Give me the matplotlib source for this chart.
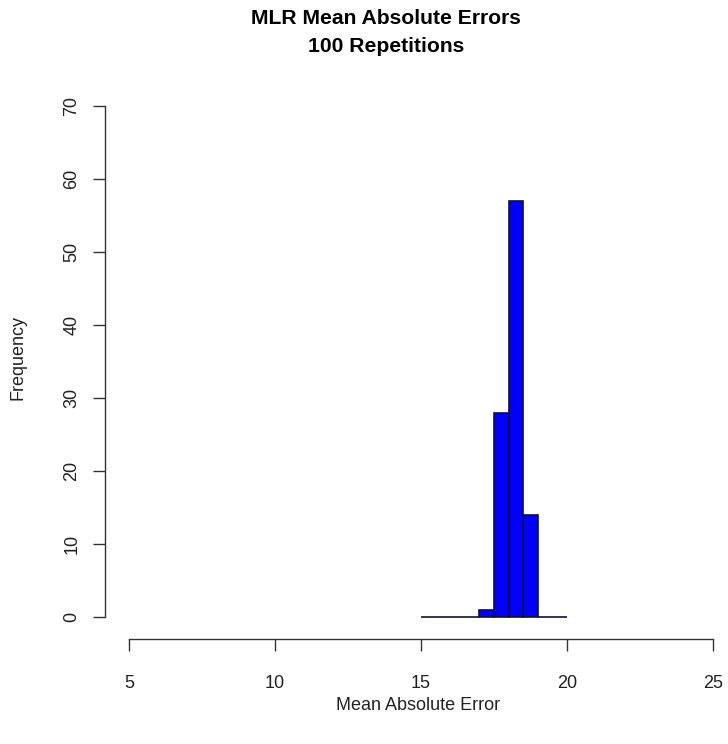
import numpy as np
import matplotlib
matplotlib.use("Agg")
import matplotlib.pyplot as plt

plt.rcParams['font.family'] = ['Liberation Sans', 'DejaVu Sans']

# Histogram of mean absolute errors over 100 repetitions
bin_edges = [15.0, 15.5, 16.0, 16.5, 17.0, 17.5, 18.0, 18.5, 19.0, 19.5, 20.0]
counts = [0, 0, 0, 0, 1, 28, 57, 14, 0, 0]
x_ticks = [5, 10, 15, 20, 25]
y_ticks = [0, 10, 20, 30, 40, 50, 60, 70]

W, H = 728, 744
fig = plt.figure(figsize=(W / 100, H / 100), dpi=100)

# plot region: x 5..25 -> px 129..713, y 0..70 -> px 617..106 (from top)
ax = fig.add_axes([129 / W, (H - 617) / H, (713 - 129) / W, (617 - 106) / H])
ax.set_xlim(5, 25)
ax.set_ylim(0, 70)
ax.patch.set_alpha(0)

edges = np.array(bin_edges)
ax.bar(edges[:-1], counts, width=np.diff(edges), align='edge',
       color='#0000FF', edgecolor='#10103a', linewidth=1.2, clip_on=False)

for side in ('top', 'right'):
    ax.spines[side].set_visible(False)
ax.spines['left'].set_position(('outward', 24 * 0.72))
ax.spines['bottom'].set_position(('outward', 22 * 0.72))
ax.spines['left'].set_bounds(0, 70)
ax.spines['bottom'].set_bounds(5, 25)
for side in ('left', 'bottom'):
    ax.spines[side].set_linewidth(1.0)
    ax.spines[side].set_color('#333333')

ax.set_xticks(x_ticks)
ax.set_yticks(y_ticks)
ax.set_xticklabels([str(v) for v in x_ticks])
ax.set_yticklabels([str(v) for v in y_ticks], rotation=90, va='center')
ax.tick_params(axis='both', length=12 * 0.72, width=1.0, color='#333333',
               labelsize=13, labelcolor='#222222')
ax.tick_params(axis='x', pad=17)
ax.tick_params(axis='y', pad=9)

fig.text(386 / W, 1 - 18 / H, 'MLR Mean Absolute Errors', ha='center', va='center',
         fontsize=15.2, fontweight='bold')
fig.text(386 / W, 1 - 46 / H, '100 Repetitions', ha='center', va='center',
         fontsize=15.2, fontweight='bold')
fig.text(418 / W, 1 - 706 / H, 'Mean Absolute Error', ha='center', va='center',
         fontsize=13, color='#222222')
fig.text(18 / W, 1 - 357 / H, 'Frequency', ha='center', va='center',
         rotation=90, fontsize=13, color='#222222')

fig.savefig('out.png', dpi=100, facecolor='white')
